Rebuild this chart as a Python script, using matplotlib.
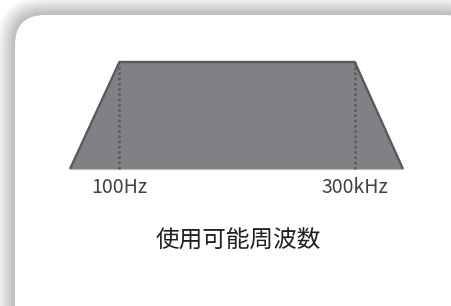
import matplotlib.pyplot as plt
from matplotlib.patches import FancyBboxPatch

plt.rcParams['font.family'] = ['Noto Sans CJK JP', 'DejaVu Sans']

# schematic frequency response: corner points of the usable band
freq_hz = [18.6, 100, 300000, 1.55e6]
level = [0, 1, 1, 0]
# marked band limits
band_limits = [100, 300000]
band_labels = ['100Hz', '300kHz']
caption = '使用可能周波数'

W, H = 451, 306
fig = plt.figure(figsize=(W / 100, H / 100), dpi=100)

# background layer in pixel coordinates (card + soft shadow)
bg = fig.add_axes([0, 0, 1, 1])
bg.set_xlim(0, W)
bg.set_ylim(H, 0)
bg.axis('off')

card_x, card_y, card_w, card_h, rad = 15, 15, 460, 320, 30
for i in range(16, 0, -1):
    shadow = FancyBboxPatch((card_x - i * 0.3 + 3, card_y - i * 0.3 + 3),
                            card_w + i * 0.6 - 6, card_h + i * 0.6 - 6,
                            boxstyle=f'round,pad={i},rounding_size={rad + i}',
                            fc='black', ec='none', alpha=0.02)
    bg.add_patch(shadow)
card = FancyBboxPatch((card_x, card_y), card_w, card_h,
                      boxstyle=f'round,pad=0,rounding_size={rad}',
                      fc='white', ec='none')
bg.add_patch(card)

# chart axes, placed so the trapezoid sits where it does in the picture
left, right, top, bottom = 70, 403, 62, 169
ax = fig.add_axes([left / W, 1 - bottom / H, (right - left) / W, (bottom - top) / H])
ax.set_xscale('log')
ax.set_xlim(freq_hz[0], freq_hz[-1])
ax.set_ylim(0, 1)
ax.axis('off')

ax.fill_between(freq_hz, level, 0, color='#808184', lw=0, clip_on=False)
ax.plot(freq_hz, level, color='#58595b', lw=1.7, solid_capstyle='butt',
        solid_joinstyle='miter', clip_on=False)
ax.plot([freq_hz[0], freq_hz[-1]], [0, 0], color='#b8b9bb', lw=0.8, clip_on=False)

for f in band_limits:
    ax.plot([f, f], [0, 1], color='#58595b', lw=1.8, ls=(0, (1, 1.1)), clip_on=False)

for f, lab in zip(band_limits, band_labels):
    ax.annotate(lab, (f, 0), xytext=(0, -13.5), textcoords='offset points',
                ha='center', va='center', fontsize=14, color='#414042')

fig.text(238 / W, 1 - 241 / H, caption, ha='center', va='center',
         fontsize=17, color='#231f20')

fig.savefig('out.png', dpi=100)
